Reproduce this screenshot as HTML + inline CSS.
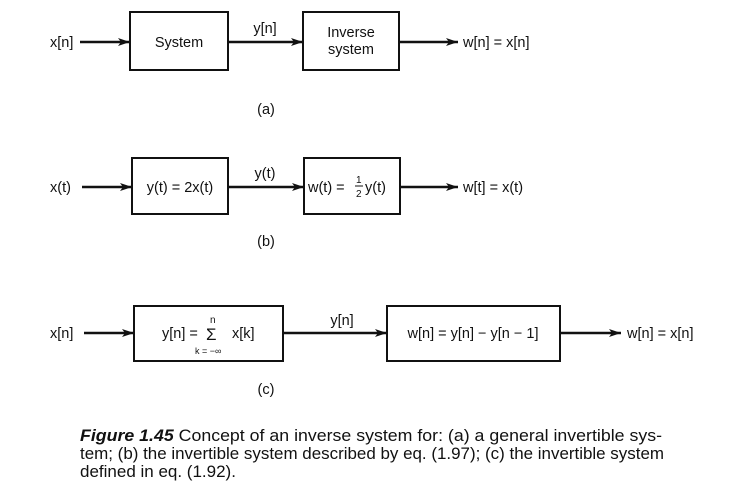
<!DOCTYPE html>
<html><head><meta charset="utf-8"><style>
html,body{margin:0;padding:0;background:#fff;}
svg{display:block;font-family:"Liberation Sans",Arial,sans-serif;}
text{fill:#111;font-size:14.5px;}
.bx{fill:none;stroke:#111;stroke-width:2;}
.ln{stroke:#111;stroke-width:2.5;}
.cap{font-size:16.5px;}
</style></head><body>
<svg width="751" height="488" viewBox="0 0 751 488">
<defs><marker id="ah" markerWidth="12" markerHeight="8" refX="12" refY="4" orient="auto" markerUnits="userSpaceOnUse"><path d="M0,0 L12,4 L0,8 L3,4 z" fill="#111"/></marker></defs>
<g>
<text x="50" y="47">x[n]</text>
<line class="ln" x1="80" y1="42" x2="130" y2="42" marker-end="url(#ah)"/>
<rect class="bx" x="130" y="12" width="98" height="58"/>
<text x="179" y="47" text-anchor="middle">System</text>
<line class="ln" x1="228" y1="42" x2="303" y2="42" marker-end="url(#ah)"/>
<text x="265" y="33" text-anchor="middle">y[n]</text>
<rect class="bx" x="303" y="12" width="96" height="58"/>
<text x="351" y="37" text-anchor="middle">Inverse</text>
<text x="351" y="54" text-anchor="middle">system</text>
<line class="ln" x1="399" y1="42" x2="458" y2="42" marker-end="url(#ah)"/>
<text x="463" y="47">w[n] = x[n]</text>
<text x="266" y="114" text-anchor="middle">(a)</text>
</g>
<g>
<text x="50" y="192">x(t)</text>
<line class="ln" x1="82" y1="187" x2="132" y2="187" marker-end="url(#ah)"/>
<rect class="bx" x="132" y="158" width="96" height="56"/>
<text x="180" y="192" text-anchor="middle">y(t) = 2x(t)</text>
<line class="ln" x1="228" y1="187" x2="304" y2="187" marker-end="url(#ah)"/>
<text x="265" y="178" text-anchor="middle">y(t)</text>
<rect class="bx" x="304" y="158" width="96" height="56"/>
<text x="308" y="192">w(t) =</text>
<text x="356" y="183" style="font-size:10px">1</text>
<line x1="355" y1="186" x2="363" y2="186" stroke="#111" stroke-width="1"/>
<text x="356" y="197" style="font-size:10px">2</text>
<text x="365" y="192">y(t)</text>
<line class="ln" x1="400" y1="187" x2="458" y2="187" marker-end="url(#ah)"/>
<text x="463" y="192">w[t] = x(t)</text>
<text x="266" y="246" text-anchor="middle">(b)</text>
</g>
<g>
<text x="50" y="338">x[n]</text>
<line class="ln" x1="84" y1="333" x2="134" y2="333" marker-end="url(#ah)"/>
<rect class="bx" x="134" y="306" width="149" height="55"/>
<text x="162" y="338">y[n] =</text>
<text x="210" y="323" style="font-size:10px">n</text>
<text x="206" y="340" style="font-size:17px">Σ</text>
<text x="195" y="354" style="font-size:9px">k = −∞</text>
<text x="232" y="338">x[k]</text>
<line class="ln" x1="283" y1="333" x2="387" y2="333" marker-end="url(#ah)"/>
<text x="342" y="325" text-anchor="middle">y[n]</text>
<rect class="bx" x="387" y="306" width="173" height="55"/>
<text x="473" y="338" text-anchor="middle">w[n] = y[n] − y[n − 1]</text>
<line class="ln" x1="560" y1="333" x2="621" y2="333" marker-end="url(#ah)"/>
<text x="627" y="338">w[n] = x[n]</text>
<text x="266" y="394" text-anchor="middle">(c)</text>
</g>
<g>
<text class="cap" x="80" y="441" textLength="582" lengthAdjust="spacingAndGlyphs"><tspan font-weight="bold" font-style="italic">Figure 1.45</tspan>    Concept of an inverse system for: (a) a general invertible sys-</text>
<text class="cap" x="80" y="459" textLength="584" lengthAdjust="spacingAndGlyphs">tem; (b) the invertible system described by eq. (1.97); (c) the invertible system</text>
<text class="cap" x="80" y="477" style="font-size:17px">defined in eq. (1.92).</text>
</g>
</svg>
</body></html>
